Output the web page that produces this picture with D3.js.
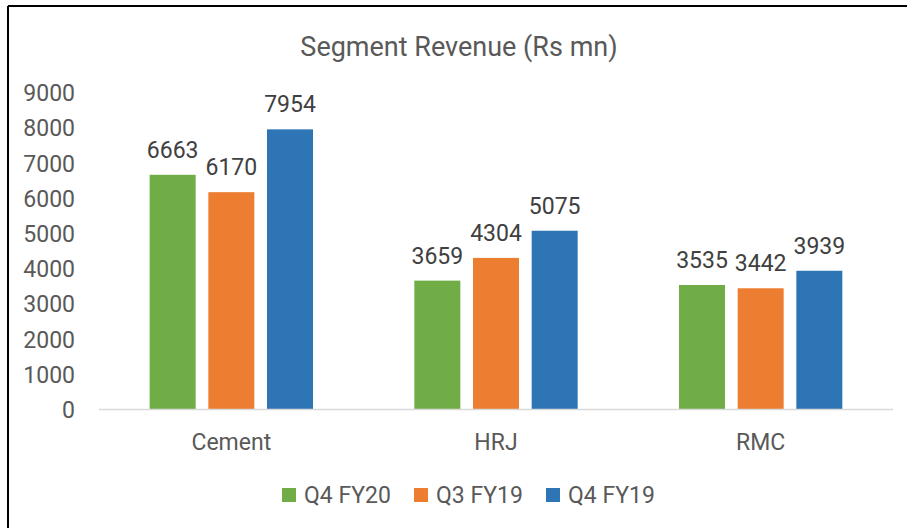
<!DOCTYPE html>
<html>
<head>
<meta charset="utf-8">
<script src="https://cdn.jsdelivr.net/npm/d3@7"></script>
<style>
  body { margin: 0; background: #fff; }
  svg text { font-family: Roboto, "Noto Sans", sans-serif; }
</style>
</head>
<body>
<script>
  // chart data
  var categories = ["Cement", "HRJ", "RMC"];
  var seriesNames = ["Q4 FY20", "Q3 FY19", "Q4 FY19"];
  var seriesColors = ["#70AD47", "#ED7D31", "#2E75B6"];
  var q4fy20 = [6663, 3659, 3535];
  var q3fy19 = [6170, 4304, 3442];
  var q4fy19 = [7954, 5075, 3939];
  var yTicks = [0, 1000, 2000, 3000, 4000, 5000, 6000, 7000, 8000, 9000];

  var seriesValues = [q4fy20, q3fy19, q4fy19];

  var W = 907, H = 528;
  var svg = d3.select("body").append("svg")
    .attr("width", W)
    .attr("height", H);

  // frame (only left + top visible in the crop)
  svg.append("line").attr("x1", 8).attr("x2", 8).attr("y1", 6).attr("y2", H)
    .attr("stroke", "#000").attr("stroke-width", 2);
  svg.append("line").attr("x1", 8).attr("x2", W).attr("y1", 6).attr("y2", 6)
    .attr("stroke", "#000").attr("stroke-width", 2);

  var plotL = 99, plotR = 893, plotT = 92.5, plotB = 409.5;

  var y = d3.scaleLinear().domain([0, 9000]).range([plotB, plotT]);

  var x0 = d3.scaleBand().domain(categories).range([plotL, plotR])
    .paddingInner(0.335).paddingOuter(0.1675);
  var x1 = d3.scaleBand().domain(seriesNames).range([0, x0.bandwidth()])
    .paddingInner(0.216).paddingOuter(0.108);

  // title
  svg.append("text")
    .attr("x", 459).attr("y", 56)
    .attr("text-anchor", "middle")
    .attr("font-size", 27)
    .attr("fill", "#595959")
    .text("Segment Revenue (Rs mn)");

  // y axis labels
  var yAxis = d3.axisLeft(y).tickValues(yTicks).tickSize(0).tickPadding(0)
    .tickFormat(d3.format("d"));
  var gy = svg.append("g").attr("transform", "translate(75,0)").call(yAxis);
  gy.select(".domain").remove();
  gy.selectAll("text")
    .attr("font-size", 23)
    .attr("fill", "#595959")
    .attr("dy", "0.35em")
    .style("font-family", "Roboto, sans-serif");

  // bars
  var groups = svg.selectAll("g.cat").data(categories).enter()
    .append("g").attr("class", "cat")
    .attr("transform", function(d){ return "translate(" + x0(d) + ",0)"; });

  groups.selectAll("rect").data(function(d, i){
      return seriesNames.map(function(s, j){ return {s: s, v: seriesValues[j][i], c: seriesColors[j]}; });
    }).enter()
    .append("rect")
    .attr("x", function(d){ return x1(d.s); })
    .attr("y", function(d){ return y(d.v); })
    .attr("width", x1.bandwidth())
    .attr("height", function(d){ return plotB - y(d.v); })
    .attr("fill", function(d){ return d.c; });

  groups.selectAll("text.val").data(function(d, i){
      return seriesNames.map(function(s, j){ return {s: s, v: seriesValues[j][i]}; });
    }).enter()
    .append("text").attr("class", "val")
    .attr("x", function(d){ return x1(d.s) + x1.bandwidth() / 2; })
    .attr("y", function(d){ return y(d.v) - 17; })
    .attr("text-anchor", "middle")
    .attr("font-size", 23)
    .attr("fill", "#404040")
    .text(function(d){ return d.v; });

  // baseline
  svg.append("line")
    .attr("x1", plotL).attr("x2", plotR)
    .attr("y1", y(0)).attr("y2", y(0))
    .attr("stroke", "#d9d9d9").attr("stroke-width", 1.5);

  // category labels
  var xAxis = d3.axisBottom(x0).tickSize(0).tickPadding(0);
  var gx = svg.append("g").attr("transform", "translate(0,450)").call(xAxis);
  gx.select(".domain").remove();
  gx.selectAll("text")
    .attr("font-size", 23)
    .attr("fill", "#595959")
    .attr("dy", 0)
    .style("font-family", "Roboto, sans-serif");

  // legend
  var legendX = [282, 414, 546];
  var legend = svg.selectAll("g.leg").data(seriesNames).enter()
    .append("g").attr("class", "leg")
    .attr("transform", function(d, i){ return "translate(" + legendX[i] + ",488)"; });
  legend.append("rect")
    .attr("width", 14).attr("height", 14)
    .attr("fill", function(d, i){ return seriesColors[i]; });
  legend.append("text")
    .attr("x", 22).attr("y", 15)
    .attr("font-size", 23)
    .attr("fill", "#595959")
    .text(function(d){ return d; });
</script>
</body>
</html>
